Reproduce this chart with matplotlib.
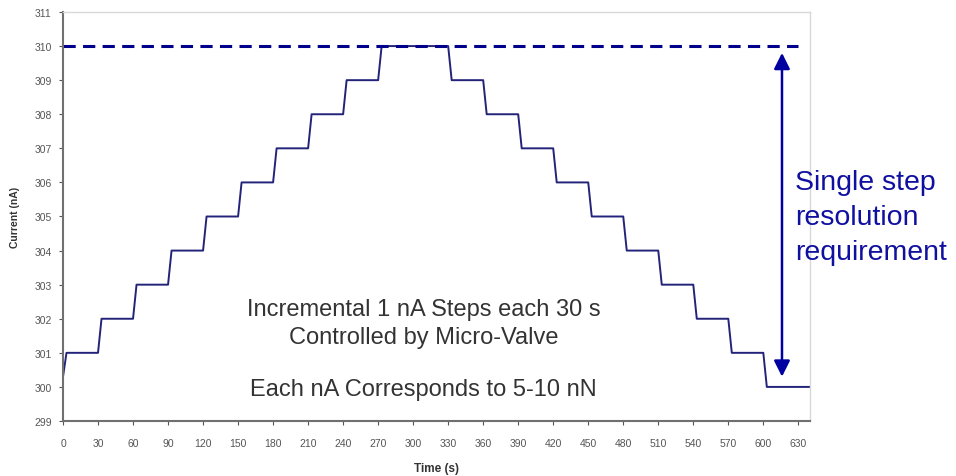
import numpy as np
import matplotlib.pyplot as plt

plt.rcParams['font.family'] = ['Liberation Sans', 'DejaVu Sans']

# step change times (s) and the current level held after each change (nA)
step_times = [0, 30, 60, 90, 120, 150, 180, 210, 240, 270,
              330, 360, 390, 420, 450, 480, 510, 540, 570, 600]
step_levels = [301, 302, 303, 304, 305, 306, 307, 308, 309, 310,
               309, 308, 307, 306, 305, 304, 303, 302, 301, 300]
start_current = 300.3
end_time = 640
ramp = 3  # seconds each transition takes

x_ticks = list(range(0, 631, 30))
y_ticks = list(range(299, 312))

target_level = 310
arrow_x = 616

# build the trace from the step tables
t = [0]
c = [start_current]
ends = step_times[1:] + [end_time]
for t0, t1, lev in zip(step_times, ends, step_levels):
    t += [t0 + ramp, t1]
    c += [lev, lev]

fig = plt.figure(figsize=(9.56, 4.77), dpi=100)
ax = fig.add_axes([63/956, 1 - 422/477, (810-63)/956, (422-13)/477])

ax.plot(t, c, color='#23237a', lw=1.4)
ax.plot([0, 630], [target_level, target_level], color='#00008b', lw=2.2,
        linestyle=(0, (4, 2.4)))

ax.set_xlim(0, 640)
ax.set_ylim(299, 311)
ax.set_xticks(x_ticks)
ax.set_yticks(y_ticks)
ax.tick_params(labelsize=7.5, colors='#555555', length=3, width=0.8)
ax.tick_params(axis='x', pad=9)
ax.tick_params(axis='y', pad=5)
for side in ['left', 'bottom']:
    ax.spines[side].set_color('#707070')
    ax.spines[side].set_linewidth(1.5)
for side in ['top', 'right']:
    ax.spines[side].set_color('#d8d8d8')
    ax.spines[side].set_linewidth(1)

ax.set_xlabel('Time (s)', fontsize=8.5, fontweight='bold', color='#333333', labelpad=10)
ax.set_ylabel('Current (nA)', fontsize=7.5, fontweight='bold', color='#333333', labelpad=10)

ax.text(309, 301.88, 'Incremental 1 nA Steps each 30 s\nControlled by Micro-Valve',
        ha='center', va='center', fontsize=17, color='#333333', linespacing=1.38)
ax.text(309, 299.94, 'Each nA Corresponds to 5-10 nN',
        ha='center', va='center', fontsize=17, color='#333333')

ax.annotate('', xy=(arrow_x, 309.8), xytext=(arrow_x, 300.3),
            arrowprops=dict(arrowstyle='<|-|>', color='#0000a0', lw=1.8,
                            mutation_scale=24, shrinkA=0, shrinkB=0))

fig.text(795/956, 1 - 218/477, 'Single step\nresolution\nrequirement',
         ha='left', va='center', fontsize=20.5, color='#1010a0', linespacing=1.43)

plt.savefig('out.png', dpi=100)
